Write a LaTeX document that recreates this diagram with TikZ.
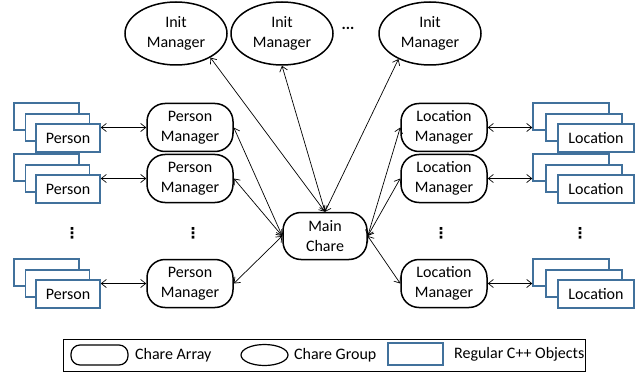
\documentclass[tikz,border=0pt]{standalone}
\usepackage{fontspec}
\setmainfont{Carlito}
\newfontfamily\symfont{DejaVu Sans}
\usetikzlibrary{positioning,shapes.geometric,arrows.meta}
\definecolor{objblue}{RGB}{65,113,156}

\begin{document}
\begin{tikzpicture}[
    x=1pt, y=-1pt,
    chare/.style={
        draw,
        line width=1.5pt,
        rounded corners=18pt,
        minimum width=86pt,
        minimum height=48pt,
        inner sep=0pt,
        align=center
    },
    chgroup/.style={
        draw,
        ellipse,
        line width=1.5pt,
        minimum width=102pt,
        minimum height=63pt,
        inner sep=0pt,
        align=center
    },
    obj/.style={
        draw=objblue,
        fill=white,
        line width=1.5pt,
        minimum width=#1,
        minimum height=27pt,
        inner sep=0pt
    },
    vdots/.style={font=\symfont\bfseries\fontsize{15}{15}\selectfont, inner sep=0pt},
    link/.style={<->, line width=0.7pt},
    every node/.style={font=\fontsize{16}{19.5}\selectfont},
    >={Straight Barb[length=5pt,width=8pt]}
]
\useasboundingbox (0,0) rectangle (644,374);

% ---- init managers (chare groups) ----
\node[chgroup] (init1) at (176,33.5) {Init\\Manager};
\node[chgroup] (init2) at (282,33.5) {Init\\Manager};
\node[chgroup] (init3) at (430,33.5) {Init\\Manager};
\node (idots) at (348,28) {\textbf{...}};

% ---- main chare ----
\node[chare, minimum width=84pt, minimum height=47pt]
    (main) at (325,236) {Main\\Chare};

% ---- rows: person / location objects and their managers ----
\foreach \r/\y in {1/127.5, 2/178.5, 3/283.5} {
    \node[obj=65pt] (pb\r) at (46.5,{\y-11}) {};
    \node[obj=64pt] (pc\r) at (57.5,\y) {};
    \node[obj=64pt, minimum height=28pt] (pf\r) at (68,{\y+10.5}) {Person};
    \node[chare] (pm\r) at (190,\y) {Person\\Manager};

    \node[obj=76pt] (lb\r) at (571,{\y-11}) {};
    \node[obj=76pt] (lc\r) at (584,\y) {};
    \node[obj=76pt, minimum height=28pt] (lf\r) at (596,{\y+10.5}) {Location};
    \node[chare] (lm\r) at (444,\y) {Location\\Manager};

    \draw[link] (pf\r.east |- pm\r.west) -- (pm\r.west);
    \draw[link] (lm\r.east) -- (lb\r.west |- lm\r.east);
    \draw[link] (main.west) -- (pm\r.east);
    \draw[link] (main.east) -- (lm\r.west);
}

% ---- main chare to init managers ----
\draw[link] (main.north) -- (init1.-35);
\draw[link] (main.north) -- (init2.south);
\draw[link] (main.north) -- (init3.-141);

% ---- vertical dots ----
\node[vdots] (pvd)  at (72,233)  {⋮};
\node[vdots] (pmvd) at (193,233) {⋮};
\node[vdots] (lmvd) at (441,233) {⋮};
\node[vdots] (lvd)  at (580,233) {⋮};

% ---- legend ----
\node[draw, line width=1pt, minimum width=522pt, minimum height=32pt,
    inner sep=0pt] (legend) at (324,355) {};
\node[chare, minimum width=57pt, minimum height=20pt, rounded corners=9pt,
    line width=1.2pt] (lgarray) at (99.5,355) {};
\node[right=3pt of lgarray] (lgarraytxt) {Chare Array};
\node[chgroup, minimum width=47pt, minimum height=21pt,
    line width=1.2pt] (lggroup) at (264.5,355) {};
\node[right=2pt of lggroup] (lggrouptxt) {Chare Group};
\node[obj=55pt, minimum height=22pt, line width=1.2pt]
    (lgobj) at (415.5,354) {};
\node[right=7pt of lgobj] (lgobjtxt) {Regular C++ Objects};

\end{tikzpicture}
\end{document}
